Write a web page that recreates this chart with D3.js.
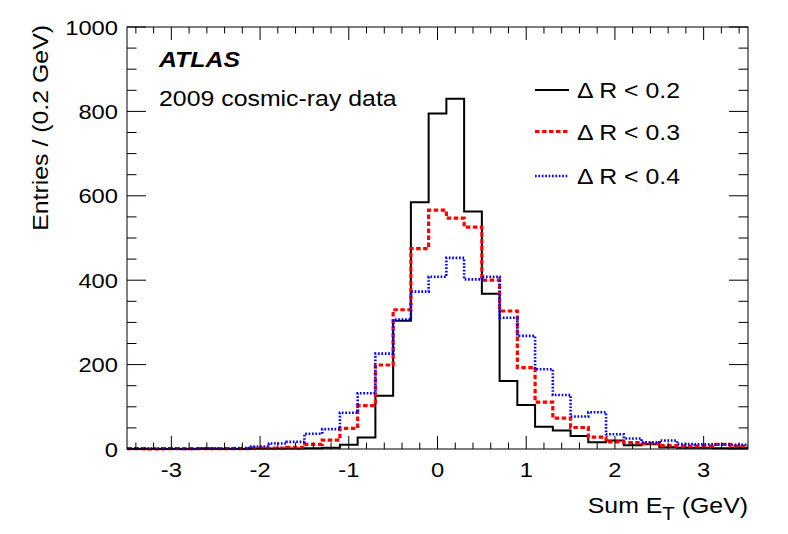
<!DOCTYPE html>
<html>
<head>
<meta charset="utf-8">
<script src="https://cdn.jsdelivr.net/npm/d3@7"></script>
<style>
  body { margin: 0; background: #fff; }
  svg text { font-family: "Liberation Sans", Arial, Helvetica, sans-serif; fill: #000; }
</style>
</head>
<body>
<svg id="chart" width="788" height="534"></svg>
<script>
// bin low edges (0.2 GeV bins), last entry is the upper edge of the last bin
var binEdges = [-3.5, -3.3, -3.1, -2.9, -2.7, -2.5, -2.3, -2.1, -1.9, -1.7, -1.5, -1.3, -1.1, -0.9, -0.7,
  -0.5, -0.3, -0.1, 0.1, 0.3, 0.5, 0.7, 0.9, 1.1, 1.3, 1.5, 1.7, 1.9, 2.1, 2.3, 2.5, 2.7, 2.9, 3.1, 3.3, 3.5];

var dr02 = [0, 0, 0, 0, 1, 0, 0, 1, 1, 1, 2, 3, 10, 27, 126, 304, 585, 795, 830, 563,
  368, 161, 104, 53, 44, 31, 16, 20, 9, 11, 4, 3, 3, 2, 3];
var dr03 = [1, 0, 1, 1, 1, 1, 1, 2, 2, 4, 11, 21, 49, 103, 199, 330, 475, 566, 547, 526,
  400, 327, 193, 111, 73, 51, 28, 17, 15, 13, 8, 7, 7, 11, 7];
var dr04 = [1, 1, 1, 0, 1, 1, 2, 6, 13, 17, 36, 47, 86, 132, 226, 307, 373, 408, 453, 402,
  408, 311, 268, 189, 128, 77, 87, 35, 25, 16, 20, 12, 11, 11, 10];

var seriesNames = ["\u0394 R < 0.2", "\u0394 R < 0.3", "\u0394 R < 0.4"];
var xTickValues = [-3, -2, -1, 0, 1, 2, 3];
var yTickValues = [0, 200, 400, 600, 800, 1000];

var padL = 127, padR = 748, padT = 27, padB = 449;
var fontSize = 22, stretch = 1.13;

var svg = d3.select("#chart");
var x = d3.scaleLinear().domain([-3.5, 3.5]).range([padL, padR]);
var y = d3.scaleLinear().domain([0, 1000]).range([padB, padT]);

function label(str, px, py, anchor, opts) {
	opts = opts || {};
	var t = svg.append("text")
		.attr("transform", "translate(" + px + "," + py + ")" + (opts.rotate ? " rotate(" + opts.rotate + ")" : "") + " scale(" + stretch + ",1)")
		.attr("text-anchor", anchor)
		.style("font-size", (opts.size || fontSize) + "px");
	if (opts.bold) t.style("font-weight", "bold");
	if (opts.italic) t.style("font-style", "italic");
	t.text(str);
	return t;
}

// histograms as step outlines
function stepPoints(values) {
	var pts = [];
	values.forEach(function(v, i) {
		pts.push([binEdges[i], v]);
		pts.push([binEdges[i + 1], v]);
	});
	return pts;
}

var line = d3.line().x(function(d){ return x(d[0]); }).y(function(d){ return y(d[1]); });

var styles = [
	{color: "#000000", width: 2, dash: null},
	{color: "#ff0000", width: 3.2, dash: "4.5,2.5"},
	{color: "#0000ff", width: 2.6, dash: "1.7,1.7"}
];

[dr02, dr03, dr04].forEach(function(vals, k) {
	svg.append("path")
		.attr("d", line(stepPoints(vals)))
		.attr("fill", "none")
		.attr("stroke", styles[k].color)
		.attr("stroke-width", styles[k].width)
		.attr("stroke-dasharray", styles[k].dash);
});

// frame
svg.append("rect")
	.attr("x", padL).attr("y", padT)
	.attr("width", padR - padL).attr("height", padB - padT)
	.attr("fill", "none").attr("stroke", "#000").attr("stroke-width", 1);

// ticks on all four sides, pointing inward
var ticks = svg.append("g").attr("stroke", "#000").attr("stroke-width", 1);
var xMinor = d3.range(-17, 18).map(function(k){ return k * 0.2; });
xMinor.forEach(function(v) {
	var major = Math.abs(v - Math.round(v)) < 1e-6;
	var len = major ? 13 : 6.5;
	ticks.append("line").attr("x1", x(v)).attr("x2", x(v)).attr("y1", padB).attr("y2", padB - len);
	ticks.append("line").attr("x1", x(v)).attr("x2", x(v)).attr("y1", padT).attr("y2", padT + len);
});
d3.range(0, 1001, 50).forEach(function(v) {
	var major = v % 200 === 0;
	var len = major ? 19 : 9.5;
	ticks.append("line").attr("x1", padL).attr("x2", padL + len).attr("y1", y(v)).attr("y2", y(v));
	ticks.append("line").attr("x1", padR).attr("x2", padR - len).attr("y1", y(v)).attr("y2", y(v));
});

// tick labels
xTickValues.forEach(function(v) {
	label(String(v), x(v), 477, "middle", {size: 21});
});
yTickValues.forEach(function(v) {
	label(String(v), 118, y(v) + 7.5, "end", {size: 21});
});

// axis titles
var xt = label("Sum E", padR, 513, "end");
xt.append("tspan").attr("dy", 7).style("font-size", "18px").text("T");
xt.append("tspan").attr("dy", -7).text(" (GeV)");
label("Entries / (0.2 GeV)", 48, 25, "end", {rotate: -90});

// ATLAS label
label("ATLAS", 159, 67, "start", {bold: true, italic: true});
label("2009 cosmic-ray data", 159, 106, "start");

// legend
var legendY = [90, 131.5, 176];
seriesNames.forEach(function(name, k) {
	svg.append("line")
		.attr("x1", 535).attr("x2", 569)
		.attr("y1", legendY[k]).attr("y2", legendY[k])
		.attr("stroke", styles[k].color)
		.attr("stroke-width", styles[k].width)
		.attr("stroke-dasharray", styles[k].dash);
	label(name, 577, legendY[k] + 8, "start");
});
</script>
</body>
</html>
